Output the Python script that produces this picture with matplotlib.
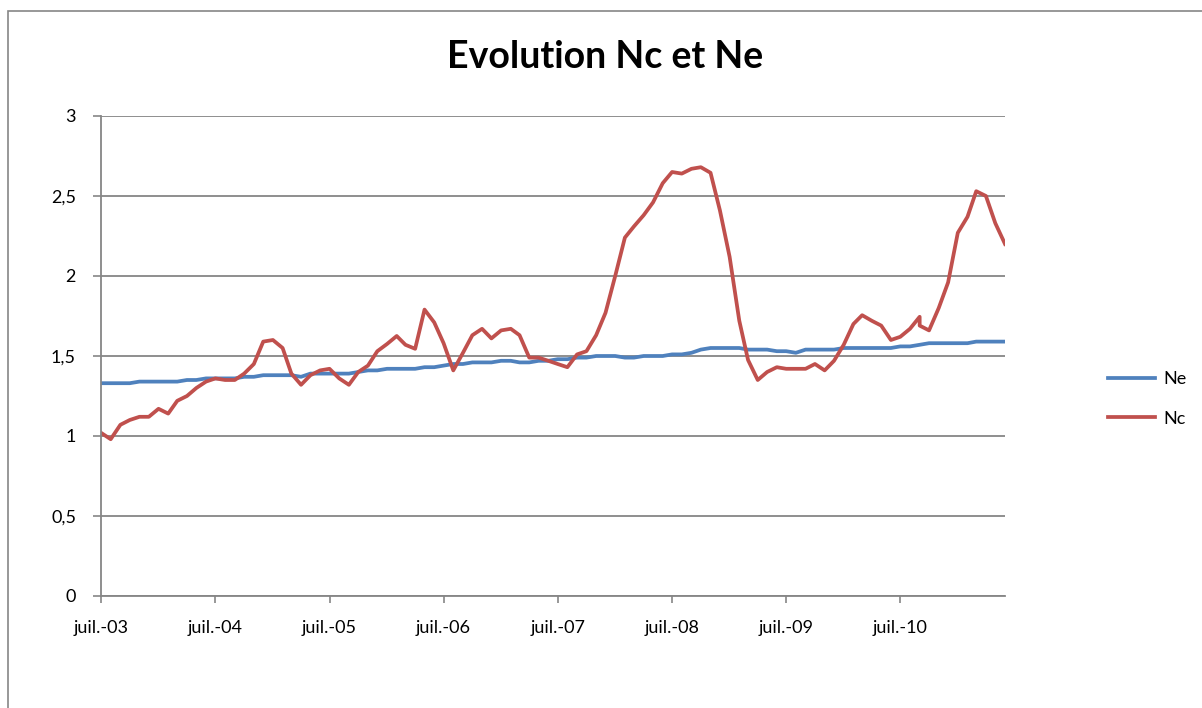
import matplotlib
matplotlib.use("Agg")
import matplotlib.pyplot as plt
from matplotlib.patches import Rectangle
import pandas as pd

plt.rcParams['font.family'] = ['Lato', 'DejaVu Sans']

# monthly series, July 2003 -> June 2011 (Sept. 2010 has two Nc records)
dates = list(pd.date_range("2003-07-01", "2011-06-01", freq="MS"))
dates.insert(87, pd.Timestamp("2010-09-01"))

ne = [1.33, 1.33, 1.33, 1.33, 1.34, 1.34, 1.34, 1.34, 1.34, 1.35, 1.35, 1.36,
      1.36, 1.36, 1.36, 1.37, 1.37, 1.38, 1.38, 1.38, 1.38, 1.37, 1.39, 1.39,
      1.39, 1.39, 1.39, 1.40, 1.41, 1.41, 1.42, 1.42, 1.42, 1.42, 1.43, 1.43,
      1.44, 1.45, 1.45, 1.46, 1.46, 1.46, 1.47, 1.47, 1.46, 1.46, 1.47, 1.47,
      1.48, 1.48, 1.49, 1.49, 1.50, 1.50, 1.50, 1.49, 1.49, 1.50, 1.50, 1.50,
      1.51, 1.51, 1.52, 1.54, 1.55, 1.55, 1.55, 1.55, 1.54, 1.54, 1.54, 1.53,
      1.53, 1.52, 1.54, 1.54, 1.54, 1.54, 1.55, 1.55, 1.55, 1.55, 1.55, 1.55,
      1.56, 1.56, 1.57, 1.57, 1.58, 1.58, 1.58, 1.58, 1.58, 1.59, 1.59, 1.59,
      1.59]

nc = [1.02, 0.98, 1.07, 1.10, 1.12, 1.12, 1.17, 1.14, 1.22, 1.25, 1.30, 1.34,
      1.36, 1.35, 1.35, 1.39, 1.45, 1.59, 1.60, 1.55, 1.39, 1.32, 1.38, 1.41,
      1.42, 1.36, 1.32, 1.40, 1.44, 1.53, 1.575, 1.625, 1.57, 1.545, 1.79, 1.71,
      1.58, 1.41, 1.52, 1.63, 1.67, 1.61, 1.66, 1.67, 1.63, 1.49, 1.49, 1.47,
      1.45, 1.43, 1.51, 1.53, 1.63, 1.77, 2.00, 2.24, 2.31, 2.38, 2.46, 2.58,
      2.65, 2.64, 2.67, 2.68, 2.645, 2.41, 2.12, 1.72, 1.475, 1.35, 1.40, 1.43,
      1.42, 1.42, 1.42, 1.45, 1.41, 1.47, 1.57, 1.70, 1.755, 1.72, 1.69, 1.60,
      1.62, 1.67, 1.745, 1.69, 1.66, 1.80, 1.96, 2.27, 2.37, 2.53, 2.50, 2.33,
      2.20]

yticks = [0, 0.5, 1, 1.5, 2, 2.5, 3]
ytick_labels = ["0", "0,5", "1", "1,5", "2", "2,5", "3"]
xtick_labels = ["juil.-03", "juil.-04", "juil.-05", "juil.-06",
                "juil.-07", "juil.-08", "juil.-09", "juil.-10"]

grid_col = "#868686"

fig = plt.figure(figsize=(12.02, 7.08), dpi=100)
ax = fig.add_axes([101 / 1202, 1 - 596 / 708, 904 / 1202, 480 / 708])

# chart area frame
fig.patches.append(Rectangle((8 / 1202, -0.1), 1.2, 1 - 11 / 708 + 0.1,
                             transform=fig.transFigure, fill=False,
                             edgecolor=grid_col, linewidth=1.2))

ax.plot(dates, ne, color="#4F81BD", lw=2.7, label="Ne", solid_joinstyle="round")
ax.plot(dates, nc, color="#C0504D", lw=2.7, label="Nc", solid_joinstyle="round")

ax.set_ylim(0, 3)
ax.set_xlim(dates[0], dates[-1])
ax.set_yticks(yticks)
ax.set_yticklabels(ytick_labels)
ax.yaxis.grid(True, color=grid_col, lw=1.3)
ax.set_axisbelow(True)

jul_ticks = [pd.Timestamp(f"{y}-07-01") for y in range(2003, 2011)]
ax.set_xticks(jul_ticks)
ax.set_xticklabels(xtick_labels)

for s in ["top", "right"]:
    ax.spines[s].set_visible(False)
for s in ["left", "bottom"]:
    ax.spines[s].set_color(grid_col)
    ax.spines[s].set_linewidth(1.3)

ax.tick_params(axis="y", length=6, width=1.2, color=grid_col, pad=12, labelsize=13)
ax.tick_params(axis="x", length=5, width=1.2, color=grid_col, pad=12, labelsize=13)

fig.text(605 / 1202, 1 - 57 / 708, "Evolution Nc et Ne", ha="center", va="center",
         fontsize=27, fontweight="bold")

ax.legend(loc="center left", bbox_to_anchor=(1092 / 1202, 1 - 399 / 708),
          bbox_transform=fig.transFigure, frameon=False, fontsize=13,
          handlelength=2.6, labelspacing=1.3, handletextpad=0.45)

fig.savefig("out.png", dpi=100)
